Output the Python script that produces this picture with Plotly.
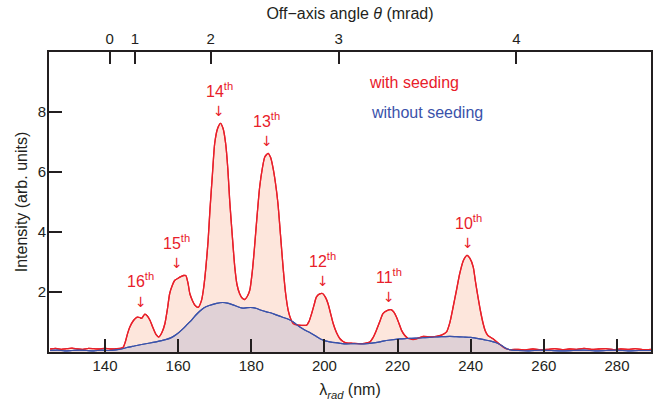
import plotly.graph_objects as go

# ---- data ----
wl_seed = [125, 126.5, 128, 129.5, 131, 132.5, 134, 135.5, 137, 138.5, 140, 141.5, 143, 144.2, 145.0, 145.6,
           146.2, 146.8, 147.8, 148.8, 149.5, 150.0, 150.9, 151.6, 152.3, 153.2, 154.0, 154.7, 155.6, 156.4,
           157.1, 157.7, 158.4, 159.1, 160.0, 160.9, 161.5, 162.1, 162.7, 163.2, 163.9, 164.6, 165.5, 166.4,
           167.0, 167.6, 168.2, 168.7, 169.4, 170.0, 170.8, 171.6, 172.3, 173.0, 173.6, 174.1, 174.8, 175.5,
           176.1, 176.8, 177.5, 178.2, 178.9, 179.6, 180.3, 180.9, 181.6, 182.3, 183.0, 183.7, 184.6, 185.3,
           185.9, 186.6, 187.3, 188.0, 188.7, 189.4, 190.1, 190.8, 191.4, 192.5, 193.8, 195.1, 195.8, 196.5,
           197.2, 197.8, 198.6, 199.5, 200.3, 201.0, 201.7, 202.4, 203.3, 204.2, 205.0, 206.0, 207.8, 209.7,
           211.0, 212.4, 213.3, 214.2, 215.1, 216.0, 217.1, 218.2, 219.0, 219.7, 220.4, 221.1, 222.0, 222.9,
           224.7, 227.0, 228.8, 230.6, 232.0, 233.4, 234.3, 235.2, 236.1, 237.0, 238.0, 239.0, 239.8, 240.7,
           241.3, 242.0, 242.7, 243.4, 244.0, 244.7, 246.0, 247.0, 248.0, 249.0, 249.8, 251, 253, 255, 257,
           259, 261, 263, 265, 267, 269, 271, 273, 275, 277, 279, 281, 283, 285, 287, 289.3]
int_seed = [0.10, 0.12, 0.09, 0.11, 0.13, 0.10, 0.09, 0.12, 0.11, 0.10, 0.12, 0.10, 0.11, 0.12, 0.16, 0.35,
            0.62, 0.83, 1.05, 1.16, 1.15, 1.12, 1.26, 1.20, 1.06, 0.79, 0.58, 0.50, 0.66, 0.95,
            1.45, 1.95, 2.22, 2.39, 2.46, 2.52, 2.55, 2.55, 2.30, 1.95, 1.72, 1.56, 1.49, 1.72,
            2.15, 2.83, 3.70, 4.72, 5.95, 6.95, 7.45, 7.62, 7.45, 6.95, 6.10, 5.06, 3.90, 2.83,
            2.25, 1.95, 1.80, 1.75, 1.85, 2.06, 2.70, 3.50, 4.55, 5.50, 6.10, 6.50, 6.62, 6.48,
            6.17, 5.65, 4.95, 3.90, 2.83, 1.95, 1.39, 1.10, 0.95, 0.90, 0.89, 0.89, 1.02, 1.28,
            1.58, 1.83, 1.93, 1.95, 1.82, 1.61, 1.28, 0.95, 0.65, 0.45, 0.36, 0.30, 0.29, 0.28,
            0.29, 0.33, 0.48, 0.72, 1.00, 1.28, 1.38, 1.41, 1.33, 1.17, 0.95, 0.72, 0.55, 0.45,
            0.42, 0.52, 0.50, 0.52, 0.56, 0.67, 0.98, 1.50, 2.05, 2.61, 3.05, 3.22, 3.12, 2.83,
            2.35, 1.83, 1.35, 0.95, 0.70, 0.55, 0.45, 0.35, 0.25, 0.15, 0.10, 0.08, 0.09, 0.07, 0.10,
            0.08, 0.09, 0.11, 0.08, 0.10, 0.09, 0.12, 0.09, 0.10, 0.11, 0.08, 0.10, 0.09, 0.11, 0.08, 0.09]

wl_noseed = [125, 127, 129, 131, 133, 135, 137, 139, 141, 143, 144.5, 146, 148, 150, 152.3, 154, 155.5, 156.8,
             158, 159.5, 161.3, 162.5, 163.8, 165, 165.9, 167, 168.5, 170.5, 172.2, 173.5, 175, 176.5, 177.7,
             179, 180.4, 181.5, 182.5, 184.2, 185.5, 187, 188.6, 190, 191.5, 193.3, 194.5, 196, 197.5, 198.8,
             200, 201.5, 203, 204.3, 206, 208, 210, 212.4, 214, 216, 218, 220.6, 222.5, 225, 227.5, 230, 232,
             234.3, 236, 238, 240, 242.5, 244, 245.5, 247, 248, 249, 250, 251, 253, 256, 259, 262, 265, 268,
             271, 274, 277, 280, 283, 286, 289.3]
int_noseed = [0.05, 0.06, 0.04, 0.05, 0.06, 0.05, 0.04, 0.06, 0.05, 0.07, 0.10, 0.15, 0.20, 0.25, 0.30, 0.34, 0.38, 0.42,
              0.47, 0.58, 0.77, 0.92, 1.08, 1.25, 1.36, 1.47, 1.55, 1.62, 1.65, 1.63, 1.57, 1.50, 1.46,
              1.48, 1.48, 1.45, 1.40, 1.34, 1.30, 1.23, 1.16, 1.10, 1.00, 0.83, 0.74, 0.65, 0.54, 0.44,
              0.38, 0.34, 0.31, 0.29, 0.27, 0.28, 0.27, 0.29, 0.31, 0.36, 0.40, 0.44, 0.45, 0.46, 0.48, 0.50, 0.51,
              0.52, 0.51, 0.50, 0.49, 0.44, 0.40, 0.36, 0.31, 0.25, 0.17, 0.10, 0.07, 0.05, 0.04, 0.06, 0.05, 0.04, 0.05,
              0.06, 0.04, 0.05, 0.06, 0.04, 0.05, 0.05]

harmonic_orders = ["16", "15", "14", "13", "12", "11", "10"]
harmonic_peak_wl = [149.8, 159.6, 171.2, 184.3, 199.5, 217.6, 239.3]
harmonic_peak_int = [1.26, 2.55, 7.62, 6.62, 1.95, 1.41, 3.22]

x_ticks = [140, 160, 180, 200, 220, 240, 260, 280]
y_ticks = [2, 4, 6, 8]
theta_ticks = ["0", "1", "2", "3", "4"]
theta_tick_wl = [141.3, 148.2, 168.9, 203.9, 252.5]

# ---- style ----
RED = "rgb(232,32,42)"
BLUE = "rgb(58,82,170)"
AX = "#231f20"
FONT = "Liberation Sans, Arial, sans-serif"
XR = [124.7, 289.3]

fig = go.Figure()
fig.add_trace(go.Scatter(x=wl_seed, y=int_seed, mode="lines", line=dict(color=RED, width=1.3, shape="spline", smoothing=0.6),
                         fill="tozeroy", fillcolor="rgb(253,230,220)", showlegend=False, hoverinfo="skip"))
fig.add_trace(go.Scatter(x=wl_noseed, y=int_noseed, mode="lines", line=dict(color=BLUE, width=1.2, shape="spline", smoothing=0.6),
                         fill="tozeroy", fillcolor="rgb(224,209,214)", showlegend=False, hoverinfo="skip"))
fig.add_trace(go.Scatter(x=wl_seed, y=int_seed, mode="lines", line=dict(color=RED, width=1.3, shape="spline", smoothing=0.6),
                         showlegend=False, hoverinfo="skip"))
fig.add_trace(go.Scatter(x=wl_noseed, y=int_noseed, mode="lines", line=dict(color=BLUE, width=1.2, shape="spline", smoothing=0.6),
                         showlegend=False, hoverinfo="skip", xaxis="x2"))

for o, xw, yp in zip(harmonic_orders, harmonic_peak_wl, harmonic_peak_int):
    fig.add_annotation(x=xw, y=yp + 1.13, text=f"{o}<sup>th</sup>", showarrow=False, xanchor="center", yanchor="middle",
                       font=dict(family=FONT, size=16, color=RED))
    fig.add_annotation(x=xw, y=yp + 0.42, text="↓", showarrow=False, xanchor="center", yanchor="middle",
                       font=dict(family="DejaVu Sans", size=14, color=RED))

fig.add_annotation(xref="paper", yref="paper", x=0.528, y=0.897, text="with seeding", showarrow=False,
                   xanchor="left", yanchor="middle", font=dict(family=FONT, size=16, color=RED))
fig.add_annotation(xref="paper", yref="paper", x=0.531, y=0.798, text="without seeding", showarrow=False,
                   xanchor="left", yanchor="middle", font=dict(family=FONT, size=16, color=BLUE))

fig.update_layout(
    width=654, height=407,
    margin=dict(l=49, r=3, t=52, b=55, autoexpand=False),
    paper_bgcolor="white", plot_bgcolor="white",
    font=dict(family=FONT, size=15, color=AX),
    xaxis=dict(range=XR, tickvals=x_ticks, ticks="inside", ticklen=13, tickwidth=2, tickcolor=AX,
               showline=True, linewidth=2, linecolor=AX, mirror=False, showgrid=False, zeroline=False,
               tickfont=dict(size=15), ticklabelstandoff=-1, automargin=False,
               title=dict(text="λ<sub><i>rad</i></sub> (nm)", font=dict(size=16), standoff=11)),
    xaxis2=dict(range=XR, overlaying="x", side="top", tickvals=theta_tick_wl, ticktext=theta_ticks,
                ticks="inside", ticklen=12, tickwidth=2, tickcolor=AX, showline=True, linewidth=2, linecolor=AX,
                showgrid=False, zeroline=False, tickfont=dict(size=15), automargin=False,
                title=dict(text="Off−axis angle <i>θ</i> (mrad)", font=dict(size=16), standoff=6)),
    yaxis=dict(range=[0, 10], tickvals=y_ticks, ticks="inside", ticklen=13, tickwidth=2, tickcolor=AX,
               showline=True, linewidth=2, linecolor=AX, mirror=True, showgrid=False, zeroline=False,
               tickfont=dict(size=15), ticklabelstandoff=-2, automargin=False,
               title=dict(text="Intensity (arb. units)", font=dict(size=16), standoff=6)),
)

fig.write_html("out.html", config={"displayModeBar": False},
               post_script="document.body.style.margin='0';document.body.style.padding='0';document.body.style.overflow='hidden';")
